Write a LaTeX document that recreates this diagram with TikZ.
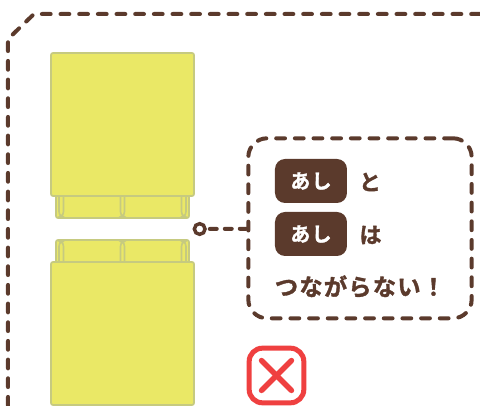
\documentclass[tikz,border=0pt]{standalone}
\usepackage{fontspec}
\newfontfamily\jpb[FakeBold=1.5]{Noto Sans CJK JP Bold}
\newfontfamily\jps[FakeBold=1.5,LetterSpace=5]{Noto Sans CJK JP Bold}
\newfontfamily\jpw[FakeBold=1.5,LetterSpace=6]{Noto Sans CJK JP Bold}
\definecolor{brn}{HTML}{5B3A2C}
\definecolor{ylw}{HTML}{EAE866}
\definecolor{ylwl}{HTML}{C6CA80}
\definecolor{rd}{HTML}{EF4040}
\tikzset{
 px/.style={x=0.75pt,y=-0.75pt},
 dashline/.style={draw=brn,line width=3pt,line cap=round,dash pattern=on 6.6pt off 7.4pt},
 panel/.style={draw=ylwl,fill=ylw,line width=1.3pt,rounded corners=1.5pt},
 tabpart/.style={draw=ylwl,fill=ylw,line width=1.3pt,rounded corners=1.5pt},
 slot/.style={draw=ylwl,line width=1.2pt,rounded corners=1pt},
 badge/.style={fill=brn,rounded corners=7.5pt,minimum width=54pt,minimum height=33pt,inner sep=0pt,text=white,font=\jpw\fontsize{15pt}{16pt}\selectfont},
 txt/.style={text=brn,inner sep=0pt,font=\jpb\fontsize{16.5pt}{18pt}\selectfont},
 callout/.style={dashline,rounded corners=14pt,minimum width=167.5pt,minimum height=135pt,inner sep=0pt},
 leader/.style={draw=brn,line width=3pt,line cap=round,dash pattern=on 5.25pt off 6pt,dash phase=9pt},
 dotnode/.style={circle,draw=brn,fill=white,line width=2.6pt,minimum size=8pt,inner sep=0pt},
}
\begin{document}
\begin{tikzpicture}[px]
\useasboundingbox (0,0) rectangle (480,406);
% outer dashed border
\draw[dashline] (480,14) -- (34,14) -- (8,39) -- (8,406);
% top piece
\draw[tabpart] (56,190) rectangle (189,218);
\foreach \xa/\xb in {59/63.5,120.5/124.5,181.5/186}{
  \draw[slot] (\xa,196) -- (\xa,213) -- (\xa+1.5,216) -- (\xb-1.5,216) -- (\xb,213) -- (\xb,196);}
\draw[panel] (51,53) rectangle (194,196);
% bottom piece
\draw[tabpart] (56,240) rectangle (189,268);
\foreach \xa/\xb in {59/63.5,120.5/124.5,181.5/186}{
  \draw[slot] (\xa,262) -- (\xa,245) -- (\xa+1.5,242) -- (\xb-1.5,242) -- (\xb,245) -- (\xb,262);}
\draw[panel] (51,262) rectangle (194,405);
% callout
\node[callout] (box) at (360,228.3) {};
\node[dotnode] (dot) at (199.7,229) {};
\draw[leader] (dot) -- (box);
\node[badge] (b1) at (311,181) {あし};
\node[badge] (b2) at (311,234) {あし};
\node[txt] (t1) at (370,182) {と};
\node[txt] (t2) at (370.5,235) {は};
\node[txt,font=\jps\fontsize{17.5pt}{18pt}\selectfont] (t3) at (360,286.5) {つながらない！};
% cross icon
\node[draw=rd,line width=3.75pt,rounded corners=10pt,minimum size=41pt,inner sep=0pt] (xbox) at (276.5,375.5) {};
\draw[draw=rd,line width=4pt,line cap=round] (xbox.center) ++(-15,-15) coordinate (xa) -- ++(30,30);
\draw[draw=rd,line width=4pt,line cap=round] (xbox.center) ++(15,-15) coordinate (xb) -- ++(-30,30);
\end{tikzpicture}
\end{document}
